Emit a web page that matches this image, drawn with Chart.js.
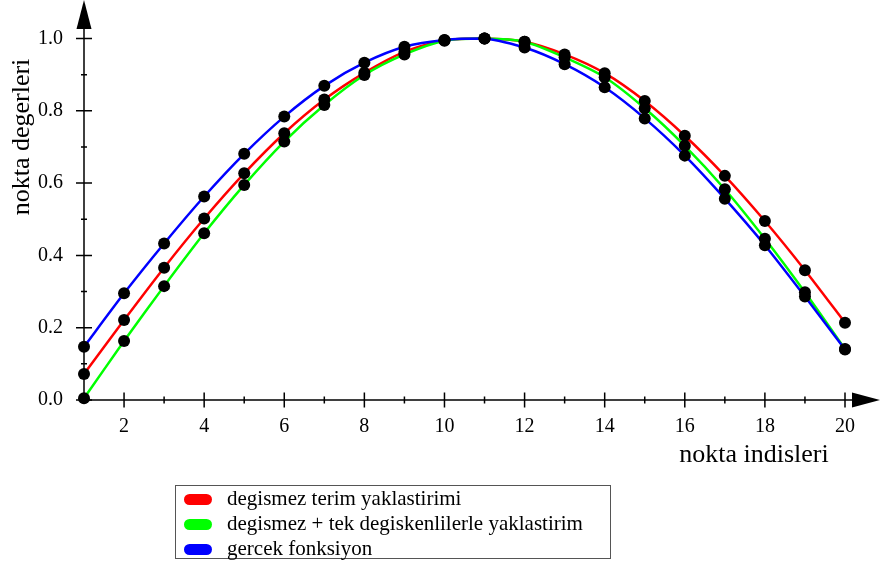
<!DOCTYPE html>
<html>
<head>
<meta charset="utf-8">
<script src="https://cdn.jsdelivr.net/npm/chart.js@4/dist/chart.umd.min.js"></script>
<style>
  html, body { margin: 0; padding: 0; background: #fff; }
  #wrap { position: relative; width: 880px; height: 567px; }
  #legend {
    position: absolute; left: 175px; top: 485px; width: 436px; height: 74px;
    border: 1px solid #555; box-sizing: border-box;
    font-family: "Liberation Serif", "DejaVu Serif", serif; font-size: 21px; color: #000;
  }
  .row { position: absolute; left: 0; height: 25px; line-height: 25px; white-space: nowrap; }
  .pill { position: absolute; left: 8px; top: 8px; width: 28px; height: 11px; border-radius: 6px; }
  .txt { position: absolute; left: 51px; top: 0; }
</style>
</head>
<body>
<div id="wrap">
  <canvas id="c" width="880" height="567"></canvas>
  <div id="legend"></div>
</div>
<script>
// ---- data ----
const indices = [1,2,3,4,5,6,7,8,9,10,11,12,13,14,15,16,17,18,19,20];
const seriesNames = ["degismez terim yaklastirimi", "degismez + tek degiskenlilerle yaklastirim", "gercek fonksiyon"];
const seriesColors = ["#ff0000", "#00ff00", "#0000ff"];
const redValues   = [0.072,0.221,0.366,0.502,0.627,0.738,0.831,0.905,0.963,0.995,1.0,0.991,0.956,0.904,0.827,0.731,0.620,0.495,0.359,0.214];
const greenValues = [0.005,0.163,0.315,0.461,0.595,0.715,0.816,0.899,0.956,0.994,1.0,0.991,0.948,0.893,0.807,0.703,0.583,0.446,0.298,0.141];
const blueValues  = [0.147,0.295,0.433,0.563,0.681,0.784,0.869,0.933,0.977,0.996,1.0,0.975,0.929,0.865,0.779,0.676,0.557,0.428,0.286,0.140];
const xTitle = "nokta indisleri";
const yTitle = "nokta degerleri";

const FONT = '"Liberation Serif", "DejaVu Serif", serif';
const toXY = arr => arr.map((v, i) => ({ x: indices[i], y: v }));
const allSeries = [redValues, greenValues, blueValues];

const datasets = [];
allSeries.forEach((vals, k) => {
  datasets.push({
    label: seriesNames[k], data: toXY(vals), borderColor: seriesColors[k], backgroundColor: seriesColors[k],
    borderWidth: 2.5, pointRadius: 0, tension: 0.25, showLine: true, clip: false, order: 5 - k
  });
});
allSeries.forEach((vals, k) => {
  datasets.push({
    label: seriesNames[k] + " points", data: toXY(vals), showLine: false,
    pointRadius: 6, pointBackgroundColor: "#000", pointBorderColor: "#000", pointBorderWidth: 0,
    clip: false, order: 1
  });
});

const axesPlugin = {
  id: 'axesDeco',
  beforeDatasetsDraw(chart) {
    const ctx = chart.ctx, xs = chart.scales.x, ys = chart.scales.y;
    const x0 = xs.getPixelForValue(indices[0]);
    const y0 = ys.getPixelForValue(0);
    ctx.save();
    ctx.strokeStyle = '#000'; ctx.fillStyle = '#000'; ctx.lineWidth = 1.5;
    // axis lines
    ctx.beginPath();
    ctx.moveTo(x0, y0); ctx.lineTo(x0, 20);
    ctx.moveTo(x0, y0); ctx.lineTo(856, y0);
    ctx.stroke();
    // arrows
    ctx.beginPath();
    ctx.moveTo(x0, 0); ctx.lineTo(x0 - 7.5, 29); ctx.lineTo(x0 + 7.5, 29); ctx.closePath(); ctx.fill();
    ctx.beginPath();
    ctx.moveTo(880, y0); ctx.lineTo(852, y0 - 7.5); ctx.lineTo(852, y0 + 7.5); ctx.closePath(); ctx.fill();
    // ticks
    ctx.beginPath();
    ys.ticks.forEach(t => {
      const p = ys.getPixelForValue(t.value);
      const major = Math.round(t.value * 10) % 2 === 0;
      const h = major ? 8 : 3;
      ctx.moveTo(x0 - h, p); ctx.lineTo(x0 + h, p);
    });
    xs.ticks.forEach(t => {
      if (t.value === indices[0]) return;
      const p = xs.getPixelForValue(t.value);
      const major = t.value % 2 === 0;
      const h = major ? 7.5 : 3.5;
      ctx.moveTo(p, y0 - h); ctx.lineTo(p, y0 + h);
    });
    ctx.stroke();
    // axis titles
    ctx.font = '26px ' + FONT;
    ctx.textAlign = 'center'; ctx.textBaseline = 'middle';
    ctx.fillText(xTitle, 754, 455);
    ctx.translate(22, 137); ctx.rotate(-Math.PI / 2);
    ctx.fillText(yTitle, 0, 0);
    ctx.restore();
  }
};

new Chart(document.getElementById('c'), {
  type: 'scatter',
  data: { datasets },
  plugins: [axesPlugin],
  options: {
    responsive: false, animation: false,
    layout: { padding: { left: 0, right: 35, top: 38.5, bottom: 0 } },
    plugins: { legend: { display: false }, tooltip: { enabled: false } },
    scales: {
      x: {
        type: 'linear', min: 1, max: 20,
        border: { display: false }, grid: { display: false, drawTicks: false },
        afterFit(s) { s.height = 167; },
        ticks: {
          stepSize: 1, autoSkip: false, maxRotation: 0, padding: 15, color: '#000',
          font: { family: FONT, size: 20 },
          callback: v => (v % 2 === 0 ? String(v) : '')
        }
      },
      y: {
        type: 'linear', min: 0, max: 1,
        border: { display: false }, grid: { display: false, drawTicks: false },
        afterFit(s) { s.width = 84; },
        ticks: {
          stepSize: 0.1, autoSkip: false, padding: 21, color: '#000',
          font: { family: FONT, size: 20 },
          callback: v => (Math.round(v * 10) % 2 === 0 ? v.toFixed(1) : '')
        }
      }
    }
  }
});

// HTML legend built from the series arrays
const legend = document.getElementById('legend');
seriesNames.forEach((name, k) => {
  const row = document.createElement('div');
  row.className = 'row';
  row.style.top = (0 + k * 25) + 'px';
  row.innerHTML = '<span class="pill" style="background:' + seriesColors[k] + '"></span><span class="txt"></span>';
  row.querySelector('.txt').textContent = name;
  legend.appendChild(row);
});
</script>
</body>
</html>
